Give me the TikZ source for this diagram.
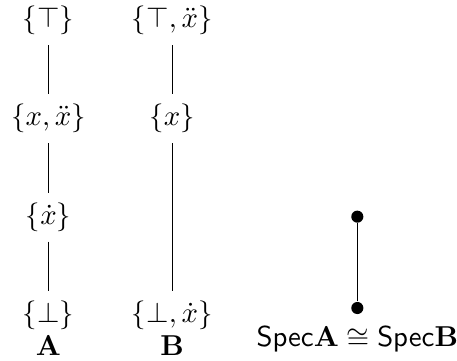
\documentclass[tikz,border=0pt]{standalone}
\usetikzlibrary{calc, positioning}

\begin{document}
\begin{tikzpicture}
  % Parameters
  \def\colSep{1.51}
  \def\rowSep{1.2}
  \def\specX{3.77}

  \useasboundingbox (-0.592,0.25) rectangle (4.987,-4.157);

  \tikzset{
    elem/.style={inner sep=0.333em},
    dot/.style={circle, fill=black, inner sep=0pt, minimum size=4.2pt}
  }

  % Lattice A
  \node[elem] (topA) at (0,0) {$\{\top\}$};
  \node[elem] (xA)   at (0,-\rowSep) {$\{x,\ddot{x}\}$};
  \node[elem] (dA)   at (0,-2*\rowSep) {$\{\dot{x}\}$};
  \node[elem] (botA) at (0,-3*\rowSep) {$\{\bot\}$};
  \draw (topA) -- (xA) -- (dA) -- (botA);

  % Lattice B
  \node[elem] (topB) at (\colSep,0) {$\{\top,\ddot{x}\}$};
  \node[elem] (xB)   at (\colSep,-\rowSep) {$\{x\}$};
  \node[elem] (botB) at (\colSep,-3*\rowSep) {$\{\bot,\dot{x}\}$};
  \draw (topB) -- (xB) -- (botB);

  % Names under the lattices
  \node[anchor=base] (nameA) at ($(botA.base)+(0,-11.5pt)$) {$\mathbf{A}$};
  \node[anchor=base] (nameB) at ($(botB.base)+(0,-11.5pt)$) {$\mathbf{B}$};

  % Common spectrum
  \node[dot] (specHi) at (\specX,-2.395) {};
  \node[dot] (specLo) at (\specX,-3.51) {};
  \draw (specHi) -- (specLo);
  \node[anchor=base] (spec) at ($(specLo)+(0,-13.5pt)$)
    {$\mathsf{Spec}\mathbf{A}\cong\mathsf{Spec}\mathbf{B}$};
\end{tikzpicture}
\end{document}
